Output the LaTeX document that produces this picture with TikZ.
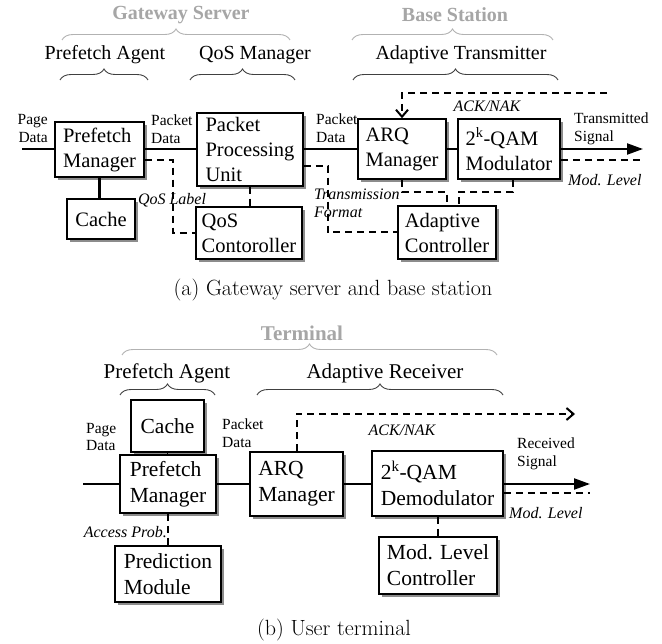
\documentclass[tikz,border=0pt]{standalone}
\usepackage{fontspec}
\newfontfamily\tms{Liberation Serif}
\usetikzlibrary{arrows.meta,shadows,decorations.pathreplacing}
\newcommand\boxAfont{\tms\fontsize{20.5}{25}\selectfont}
\newcommand\boxBfont{\tms\fontsize{21.5}{26}\selectfont}
\newcommand\lblfont{\tms\fontsize{15.5}{17.5}\selectfont}
\newcommand\ilblfont{\tms\itshape\fontsize{16}{18}\selectfont}
\newcommand\hdrAfont{\tms\fontsize{20}{24}\selectfont}
\newcommand\hdrBfont{\tms\fontsize{21}{25}\selectfont}
\newcommand\ghdrfont{\tms\bfseries\fontsize{20}{24}\selectfont}
\newcommand\ghdrBfont{\tms\bfseries\fontsize{21}{25}\selectfont}
\newcommand\capfont{\fontsize{22}{26}\selectfont}
\begin{document}
\begin{tikzpicture}[x=1pt,y=-1pt,
  box/.style={draw, line width=1.5pt, fill=white, inner sep=2pt, align=left,
    drop shadow={shadow xshift=3pt, shadow yshift=-3pt, fill=black!45, opacity=1}},
  boxA/.style={box, font=\boxAfont},
  boxB/.style={box, font=\boxBfont},
  ln/.style={line width=2.2pt},
  dsh/.style={line width=2pt, dash pattern=on 7pt off 5pt},
  lbl/.style={font=\lblfont, inner sep=0pt},
  ilbl/.style={font=\ilblfont, inner sep=0pt},
  brc/.style={decorate, decoration={brace, amplitude=11pt}, line width=0.9pt, draw=black!75},
  gbrc/.style={decorate, decoration={brace, amplitude=11pt}, line width=0.9pt, draw=black!30},
  ackarrow/.style={-{Straight Barb[length=7pt,width=12pt]}},
  outarrow/.style={-{Triangle[length=16pt,width=11pt]}}
]
\useasboundingbox (0,0) rectangle (662,644);
\fill[white] (0,0) rectangle (662,644);

% ---------- (a) headers ----------
\node[font=\ghdrfont, text=black!35] (gws) at (181,15) {Gateway Server};
\node[font=\ghdrfont, text=black!35] (bst) at (455,15) {Base Station};
\draw[gbrc] (62,40) -- (290,40);
\draw[gbrc] (352,40) -- (553,40);
\node[font=\hdrAfont] (paA) at (105,55) {Prefetch Agent};
\node[font=\hdrAfont] (qm) at (255,55) {QoS Manager};
\node[font=\hdrAfont] (at) at (461,55) {Adaptive Transmitter};
\draw[brc] (60,80) -- (148,80);
\draw[brc] (190,80) -- (295,80);
\draw[brc] (353,80) -- (558,80);

% ---------- (a) boxes ----------
\node[boxA, minimum width=89pt, minimum height=55pt] (pmA) at (99.5,149.5) {Prefetch\\Manager};
\node[boxA, minimum width=68pt, minimum height=40pt] (cacheA) at (101,219) {Cache};
\node[boxA, minimum width=106pt, minimum height=73pt] (ppu) at (250,149.5) {Packet\\Processing\\Unit};
\node[boxA, minimum width=106pt, minimum height=52pt] (qosc) at (249,233) {QoS\\Contoroller};
\node[boxA, minimum width=88pt, minimum height=60pt] (arqA) at (402,149) {ARQ\\Manager};
\node[boxA, minimum width=102pt, minimum height=60pt] (qamA) at (509,149) {2\textsuperscript{k}-QAM\\Modulator};
\node[boxA, minimum width=98pt, minimum height=53pt] (ac) at (447,232.5) {Adaptive\\Controller};

% ---------- (a) connectors ----------
\coordinate (inA) at (22,149);
\draw[ln] (inA) -- (inA -| pmA.west);
\draw[ln] (pmA.east |- inA) -- (ppu.west |- inA);
\draw[ln] (ppu.east |- inA) -- (arqA.west |- inA);
\draw[ln] (arqA.east |- inA) -- (qamA.west |- inA);
\coordinate (outA) at (643,149);
\draw[ln, outarrow] (qamA.east |- outA) -- (outA);
\coordinate (mlA) at (643,160);
\draw[dsh] (qamA.east |- mlA) -- (mlA);
\coordinate (ackA) at (607,93);
\draw[dsh, ackarrow] (ackA) -| (arqA.north);
\draw[ln] (pmA.south) -- (pmA.south |- cacheA.north);
\draw[dsh] (ppu.south) -- (ppu.south |- qosc.north);
\draw[dsh] (pmA.east |- 0,160) -- (173,160) |- (qosc.west);
\draw[dsh] (ppu.east |- 0,166) -- (328,166) |- (ac.west);
\draw[dsh] (arqA.south) -- (arqA.south |- 0,192) -| (ac.north);
\coordinate (qs) at ([xshift=4pt]qamA.south);
\coordinate (acn) at ([xshift=11.5pt]ac.north);
\draw[dsh] (qs) -- (qs |- 0,192) -| (acn);

% ---------- (a) labels ----------
\node[lbl, align=right, anchor=east] (pdA) at (48,128.5) {Page\\Data};
\node[lbl, align=left, anchor=west] (pk1) at (151,129) {Packet\\Data};
\node[lbl, align=left, anchor=west] (pk2) at (316,128) {Packet\\Data};
\node[lbl, align=left, anchor=west] (tsA) at (574,129) {Transmitted\\Signal};
\node[ilbl, anchor=west] (mlvA) at (568,180) {Mod. Level};
\node[ilbl] (ackLA) at (487,106) {ACK/NAK};
\node[ilbl] (qlab) at (172,200) {QoS Label};
\node[ilbl, align=left, anchor=west] (tf) at (314,203) {Transmission\\Format};

\node[font=\capfont] (capA) at (333,290) {(a) Gateway server and base station};

% ---------- (b) headers ----------
\node[font=\ghdrBfont, text=black!35] (term) at (302,333) {Terminal};
\draw[gbrc] (122,355) -- (497,355);
\node[font=\hdrBfont] (paB) at (167,373) {Prefetch Agent};
\node[font=\hdrBfont] (ar) at (385,373) {Adaptive Receiver};
\draw[brc] (120,395) -- (215,395);
\draw[brc] (257,395) -- (503,395);

% ---------- (b) boxes ----------
\node[boxB, minimum width=73pt, minimum height=52pt] (cacheB) at (167.5,426) {Cache};
\node[boxB, minimum width=96pt, minimum height=58pt] (pmB) at (168,484) {Prefetch\\Manager};
\node[boxB, minimum width=106pt, minimum height=56pt] (prm) at (168,574) {Prediction\\Module};
\node[boxB, minimum width=93pt, minimum height=64pt] (arqB) at (296.5,484) {ARQ\\Manager};
\node[boxB, minimum width=131pt, minimum height=65pt] (dem) at (437.5,483.5) {2\textsuperscript{k}-QAM\\Demodulator};
\node[boxB, minimum width=118pt, minimum height=57pt] (mlc) at (438,565.5) {Mod. Level\\Controller};

% ---------- (b) connectors ----------
\coordinate (inB) at (83,484);
\draw[ln] (inB) -- (inB -| pmB.west);
\draw[ln] (pmB.east |- inB) -- (arqB.west |- inB);
\draw[ln] (arqB.east |- inB) -- (dem.west |- inB);
\coordinate (outB) at (590,484);
\draw[ln, outarrow] (dem.east |- outB) -- (outB);
\coordinate (mlB) at (590,493);
\draw[dsh] (dem.east |- mlB) -- (mlB);
\draw[line width=1pt] (cacheB.south) -- (cacheB.south |- pmB.north);
\draw[dsh] (pmB.south) -- (pmB.south |- prm.north);
\draw[dsh] (dem.south) -- (dem.south |- mlc.north);
\coordinate (ackB) at (575,414);
\draw[dsh, ackarrow] (arqB.north) |- (ackB);

% ---------- (b) labels ----------
\node[lbl, align=left, anchor=west] (pdB) at (86,437) {Page\\Data};
\node[lbl, align=left, anchor=west] (pk3) at (222,433) {Packet\\Data};
\node[ilbl, anchor=east] (apr) at (167,532) {Access Prob.};
\node[ilbl] (ackLB) at (402,430) {ACK/NAK};
\node[lbl, align=left, anchor=west] (rsB) at (517,454) {Received\\Signal};
\node[ilbl, anchor=west] (mlvB) at (509,513) {Mod. Level};

\node[font=\capfont] (capB) at (334,630) {(b) User terminal};
\end{tikzpicture}
\end{document}
